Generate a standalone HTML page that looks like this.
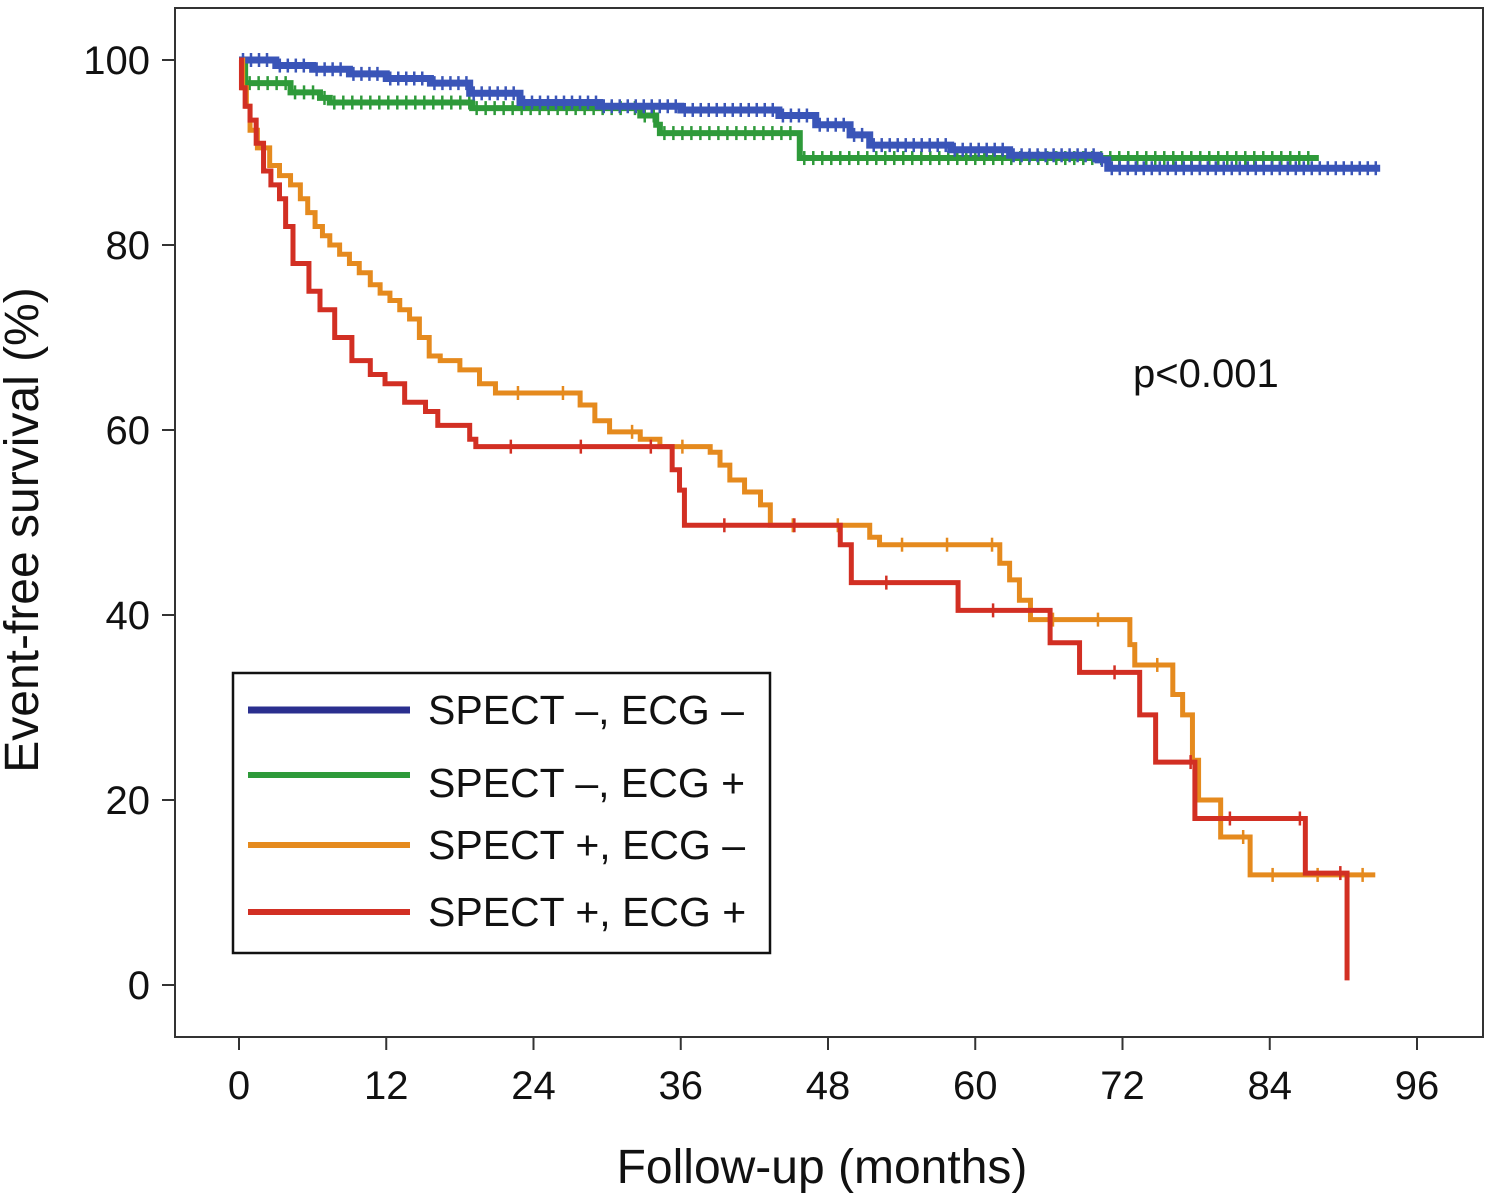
<!DOCTYPE html>
<html><head><meta charset="utf-8"><style>
body{margin:0;background:#fff}
svg{display:block;font-family:"Liberation Sans",Arial,sans-serif}
</style></head><body>
<svg id="chart" width="1490" height="1195" viewBox="0 0 1490 1195">
<rect x="175" y="8" width="1308" height="1029" fill="none" stroke="#333" stroke-width="2"/>
<g id="axes"></g>
<g id="series"></g>
<text x="1133" y="387" font-size="40" fill="#111">p&lt;0.001</text>
<text x="822" y="1183" font-size="48" text-anchor="middle" fill="#111">Follow-up (months)</text>
<text transform="translate(38,530) rotate(-90)" font-size="48" text-anchor="middle" fill="#111">Event-free survival (%)</text>
<g>
<rect x="233" y="673" width="537" height="280" fill="#fff" stroke="#111" stroke-width="2.5"/>
<line x1="248" y1="710" x2="410" y2="710" stroke="#2a2f8f" stroke-width="7"/>
<text x="428" y="724" font-size="41" fill="#111">SPECT –, ECG –</text>
<line x1="248" y1="775" x2="410" y2="775" stroke="#2e9a3a" stroke-width="6"/>
<text x="428" y="797" font-size="41" fill="#111">SPECT –, ECG +</text>
<line x1="248" y1="845" x2="410" y2="845" stroke="#e58a1e" stroke-width="6"/>
<text x="428" y="859" font-size="41" fill="#111">SPECT +, ECG –</text>
<line x1="248" y1="912" x2="410" y2="912" stroke="#d22f23" stroke-width="6"/>
<text x="428" y="926" font-size="41" fill="#111">SPECT +, ECG +</text>
</g>
</svg>
<script>
const xTicks=[0,12,24,36,48,60,72,84,96];
const yTicks=[0,20,40,60,80,100];
const blueT=[0,3,6,9,12,15.6,18.8,22.9,29.4,36,44,47,49.8,51.4,58,62.8,70,70.8,93];
const blueS=[100,99.4,99,98.5,98,97.5,96.4,95.4,95,94.6,94,93,91.9,90.8,90.3,89.7,89.2,88.3,88.3];
const greenT=[0,0.5,4.2,6.6,7.4,19,31.9,32.7,34,34.3,45.7,88];
const greenS=[100,97.5,96.5,95.9,95.4,94.8,94.8,94,93,92.1,89.4,89.4];
const orangeT=[0,0.3,0.6,0.9,1.5,2.5,3.3,4.2,5,5.6,6.2,6.8,7.4,8.2,9,9.8,10.7,11.5,12.3,13.1,13.9,14.7,15.5,16.4,18,19.6,20.9,27.8,29,30.2,32.7,34.3,38.4,39.2,40,41.2,42.5,43.3,51.4,52.2,62,62.8,63.6,64.5,72.6,73,76.1,76.9,77.7,78.2,78.5,80,82.4,92.6];
const orangeS=[100,97,95,92.4,90.5,88.6,87.5,86.5,85,83.5,82,81,80,79,78,77,75.7,74.8,74,73,72,70,68,67.5,66.5,65,64,62.7,61,59.8,59,58.2,57.6,56.2,54.6,53.3,51.9,49.7,48.4,47.6,45.6,43.8,41.6,39.5,36.8,34.6,31.4,29.2,24.3,20,20,16,11.9,11.9];
const redT=[0,0.2,0.5,0.9,1.4,2,2.6,3.3,3.8,4.4,5.7,6.6,7.8,9.2,10.7,11.9,13.5,15.2,16.2,18.8,19.3,35.3,35.9,36.3,36.7,49,49.3,49.9,58.6,66.1,68.5,73.4,74.7,77.9,86.9,90.3,90.3];
const redS=[100,97,95,93.5,91,88,86.5,85,82,78,75,73,70,67.5,66,65,63,62,60.5,59,58.2,55.7,53.5,49.7,49.7,47.6,47.6,43.5,40.5,37,33.8,29.2,24.1,18,12.1,12.1,0.5];
const X=t=>239+t*(1417-239)/96;
const Y=s=>985-s*9.25;
const NS="http://www.w3.org/2000/svg";
const axes=document.getElementById('axes'),series=document.getElementById('series');
function mk(tag,attrs,parent){const e=document.createElementNS(NS,tag);for(const k in attrs)e.setAttribute(k,attrs[k]);parent.appendChild(e);return e;}
xTicks.forEach(v=>{
  const l=mk('line',{x1:X(v),x2:X(v),y1:1037,y2:1050,stroke:'#333','stroke-width':2},axes);
  
  
  const t=mk('text',{x:X(v),y:1099,'font-size':40,'text-anchor':'middle',fill:'#111'},axes);
  t.textContent=v;
  
  
});
yTicks.forEach(v=>{
  const l=mk('line',{x1:162,x2:175,y1:Y(v),y2:Y(v),stroke:'#333','stroke-width':2},axes);
  
  
  const t=mk('text',{x:150,y:Y(v)+14,'font-size':40,'text-anchor':'end',fill:'#111'},axes);
  t.textContent=v;
  
  
});
function stepPath(T,S){let d='M'+X(T[0])+','+Y(S[0]);for(let i=1;i<T.length;i++){d+=' H'+X(T[i])+' V'+Y(S[i]);}return d;}
function draw(T,S,color,w,name,censorEvery){
  const p=mk('path',{d:stepPath(T,S),fill:'none',stroke:color,'stroke-width':w,'stroke-linejoin':'miter'},series);
  
  
  for(let i=0;i<T.length-1;i++){
    const a=X(T[i]),b=X(T[i+1]),y=Y(S[i]);
    for(let x=a+censorEvery/2;x<b-2;x+=censorEvery){
      const c=mk('line',{x1:x,x2:x,y1:y-7,y2:y+7,stroke:color,'stroke-width':2.5},series);
      
      
    }
  }
}
draw(greenT,greenS,'#2e9a3a',6,'series-spect-neg-ecg-pos',9);
draw(blueT,blueS,'#3a55b8',7,'series-spect-neg-ecg-neg',8);
draw(orangeT,orangeS,'#e58a1e',5,'series-spect-pos-ecg-neg',45);
draw(redT,redS,'#d22f23',5,'series-spect-pos-ecg-pos',70);
</script>
</body></html>
